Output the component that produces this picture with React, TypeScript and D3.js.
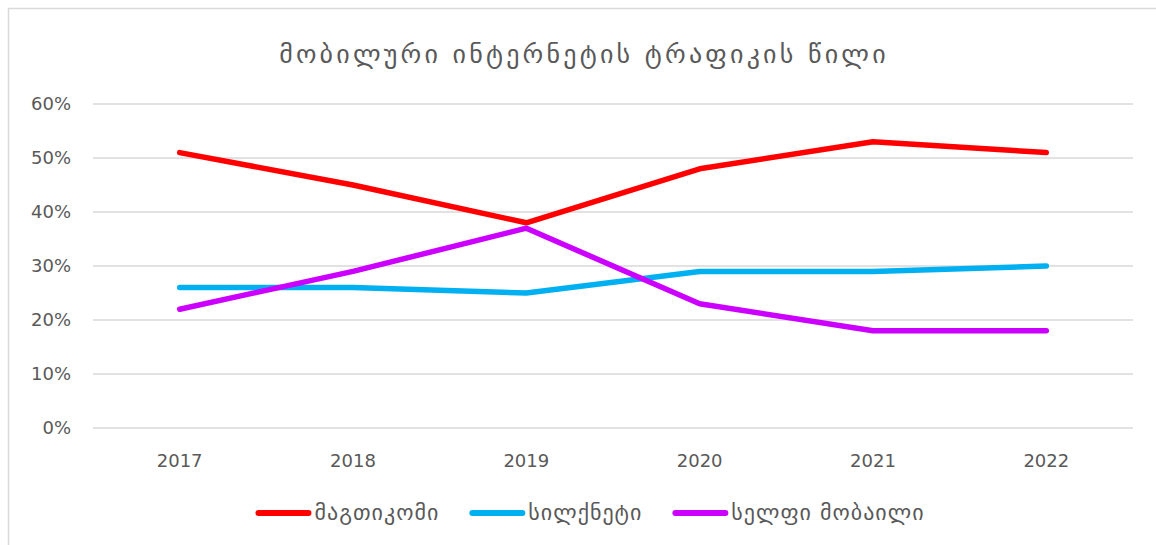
import React, { useEffect, useRef } from "react";
import * as d3 from "d3";

const years = ["2017", "2018", "2019", "2020", "2021", "2022"];
const magticom = [51, 45, 38, 48, 53, 51];
const silknet = [26, 26, 25, 29, 29, 30];
const cellfie = [22, 29, 37, 23, 18, 18];
const seriesNames = ["მაგთიკომი", "სილქნეტი", "სელფი მობაილი"];
const seriesColors = ["#FF0000", "#00B0F0", "#CC00FF"];
const yTicks = [0, 10, 20, 30, 40, 50, 60];
const title = "მობილური ინტერნეტის ტრაფიკის წილი";

const W = 1156;
const H = 545;
const FONT = "'DejaVu Sans', sans-serif";

export default function App() {
  const svgRef = useRef<SVGSVGElement>(null);

  useEffect(() => {
    if (!svgRef.current) return;
    const svg = d3.select(svgRef.current);
    svg.selectAll("*").remove();

    const margin = { left: 93, right: 23, top: 104, bottom: 117 };
    const x = d3
      .scaleBand<string>()
      .domain(years)
      .range([margin.left, W - margin.right]);
    const y = d3
      .scaleLinear()
      .domain([0, 60])
      .range([H - margin.bottom, margin.top]);

    // chart area border (only top + left fall inside the picture)
    svg
      .append("rect")
      .attr("x", 8.5)
      .attr("y", 8.5)
      .attr("width", W + 20)
      .attr("height", H + 20)
      .attr("fill", "#fff")
      .attr("stroke", "#d9d9d9")
      .attr("stroke-width", 1.5);

    svg
      .append("text")
      .attr("x", 584)
      .attr("y", 63)
      .attr("text-anchor", "middle")
      .style("font-family", FONT)
      .style("font-size", "26px")
      .style("letter-spacing", "3.2px")
      .style("fill", "#595959")
      .text(title);

    const grid = svg.append("g");
    grid
      .selectAll("line")
      .data(yTicks)
      .enter()
      .append("line")
      .attr("x1", margin.left)
      .attr("x2", W - margin.right)
      .attr("y1", (d) => y(d))
      .attr("y2", (d) => y(d))
      .attr("stroke", "#d9d9d9")
      .attr("stroke-width", 1.5);

    grid
      .selectAll("text")
      .data(yTicks)
      .enter()
      .append("text")
      .attr("x", 71)
      .attr("y", (d) => y(d))
      .attr("dy", "0.36em")
      .attr("text-anchor", "end")
      .style("font-family", FONT)
      .style("font-size", "18px")
      .style("fill", "#595959")
      .text((d) => `${d}%`);

    svg
      .append("g")
      .selectAll("text")
      .data(years)
      .enter()
      .append("text")
      .attr("x", (d) => (x(d) ?? 0) + x.bandwidth() / 2)
      .attr("y", 467)
      .attr("text-anchor", "middle")
      .style("font-family", FONT)
      .style("font-size", "18px")
      .style("fill", "#595959")
      .text((d) => d);

    const line = d3
      .line<number>()
      .x((_d, i) => (x(years[i]) ?? 0) + x.bandwidth() / 2)
      .y((d) => y(d));

    const allSeries = [magticom, silknet, cellfie];
    allSeries.forEach((vals, i) => {
      svg
        .append("path")
        .datum(vals)
        .attr("d", line)
        .attr("fill", "none")
        .attr("stroke", seriesColors[i])
        .attr("stroke-width", 5.5)
        .attr("stroke-linecap", "round")
        .attr("stroke-linejoin", "round");
    });

    // legend, centered under the plot
    const legend = svg.append("g");
    const items = legend
      .selectAll("g")
      .data(seriesNames)
      .enter()
      .append("g");
    items
      .append("line")
      .attr("x1", 3)
      .attr("x2", 53)
      .attr("y1", 0)
      .attr("y2", 0)
      .attr("stroke", (_d, i) => seriesColors[i])
      .attr("stroke-width", 6)
      .attr("stroke-linecap", "round");
    items
      .append("text")
      .attr("x", 59)
      .attr("dy", "0.33em")
      .style("font-family", FONT)
      .style("font-size", "22px")
      .style("letter-spacing", "1px")
      .style("fill", "#595959")
      .text((d) => d);

    const gap = 30;
    let offset = 0;
    const positions: number[] = [];
    items.each(function () {
      const t = d3.select(this).select("text").node() as SVGTextElement;
      positions.push(offset);
      offset += 59 + t.getComputedTextLength() + gap;
    });
    const total = offset - gap;
    const start = 590 - total / 2;
    items.attr(
      "transform",
      (_d, i) => `translate(${start + positions[i]},${513})`,
    );
  }, []);

  return (
    <svg
      ref={svgRef}
      width={W}
      height={H}
      style={{ position: "absolute", left: 0, top: 0, background: "#fff" }}
    />
  );
}
